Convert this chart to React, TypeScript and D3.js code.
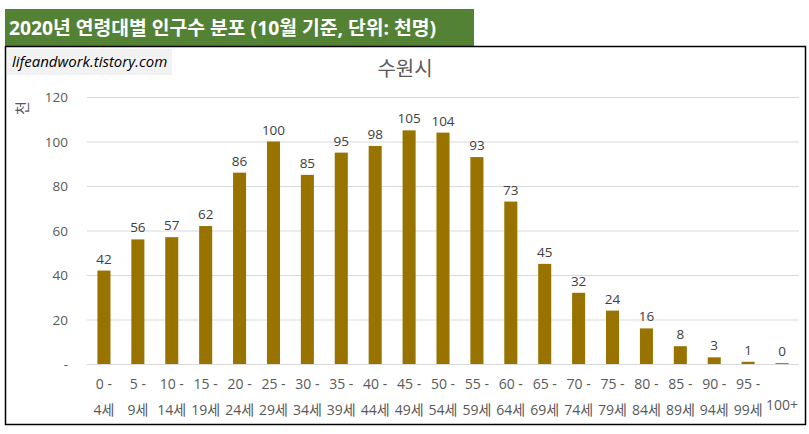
import { useEffect, useRef } from 'react';
import * as d3 from 'd3';

const AGE_LINE1 = ['0 -', '5 -', '10 -', '15 -', '20 -', '25 -', '30 -', '35 -', '40 -', '45 -', '50 -', '55 -', '60 -', '65 -', '70 -', '75 -', '80 -', '85 -', '90 -', '95 -', ''];
const AGE_LINE2 = ['4세', '9세', '14세', '19세', '24세', '29세', '34세', '39세', '44세', '49세', '54세', '59세', '64세', '69세', '74세', '79세', '84세', '89세', '94세', '99세', '100+'];
const POPULATION = [42, 56, 57, 62, 86, 100, 85, 95, 98, 105, 104, 93, 73, 45, 32, 24, 16, 8, 3, 1, 0.4];
const Y_TICKS = [0, 20, 40, 60, 80, 100, 120];

const HEADER = '2020년 연령대별 인구수 분포 (10월 기준, 단위: 천명)';
const CITY = '수원시';
const WATERMARK = 'lifeandwork.tistory.com';

const FONT = "'Open Sans', 'Noto Sans CJK KR', sans-serif";
const BAR_COLOR = '#997300';

export default function App() {
  const svgRef = useRef<SVGSVGElement>(null);

  useEffect(() => {
    if (!svgRef.current) return;
    const svg = d3.select(svgRef.current);
    svg.selectAll('*').remove();

    const plot = { left: 87, right: 799, top: 97, bottom: 364 };

    // header band
    svg.append('rect')
      .attr('x', 5).attr('y', 9).attr('width', 469).attr('height', 37)
      .attr('fill', '#548235');
    svg.append('text')
      .attr('x', 9).attr('y', 35)
      .attr('fill', '#fff').attr('font-size', '19px').attr('font-weight', 'bold')
      .attr('font-family', FONT)
      .attr('textLength', 427).attr('lengthAdjust', 'spacingAndGlyphs')
      .text(HEADER);

    // chart frame
    svg.append('rect')
      .attr('x', 5.5).attr('y', 46.5).attr('width', 800).attr('height', 378)
      .attr('fill', '#fff').attr('stroke', '#000').attr('stroke-width', 1.5);

    // watermark
    svg.append('rect')
      .attr('x', 7).attr('y', 49).attr('width', 165).attr('height', 26)
      .attr('fill', '#f2f2f2');
    svg.append('text')
      .attr('x', 12).attr('y', 67)
      .attr('fill', '#000').attr('font-size', '15px').attr('font-style', 'italic')
      .attr('font-family', FONT)
      .text(WATERMARK);

    // title
    svg.append('text')
      .attr('x', 405).attr('y', 76).attr('text-anchor', 'middle')
      .attr('fill', '#595959').attr('font-size', '20px')
      .attr('font-family', FONT)
      .text(CITY);

    // y axis title
    svg.append('text')
      .attr('transform', 'translate(28,108) rotate(-90)')
      .attr('text-anchor', 'middle')
      .attr('fill', '#595959').attr('font-size', '15px')
      .attr('font-family', FONT)
      .text('천');

    const x = d3.scaleBand<number>()
      .domain(d3.range(POPULATION.length))
      .range([plot.left, plot.right])
      .padding(0);
    const y = d3.scaleLinear().domain([0, 120]).range([plot.bottom, plot.top]);

    // grid
    svg.append('g')
      .selectAll('line')
      .data(Y_TICKS)
      .join('line')
      .attr('x1', plot.left).attr('x2', plot.right)
      .attr('y1', (d) => y(d) + 0.5).attr('y2', (d) => y(d) + 0.5)
      .attr('stroke', '#d9d9d9').attr('stroke-width', 1);

    // y tick labels
    svg.append('g')
      .selectAll('text')
      .data(Y_TICKS)
      .join('text')
      .attr('x', 68).attr('y', (d) => y(d) + 5)
      .attr('text-anchor', 'end')
      .attr('fill', '#595959').attr('font-size', '13.5px')
      .attr('font-family', FONT)
      .text((d) => (d === 0 ? '-' : String(d)));

    // bars
    const barW = x.bandwidth() * 0.385;
    svg.append('g')
      .selectAll('rect')
      .data(POPULATION)
      .join('rect')
      .attr('x', (_d, i) => x(i)! + (x.bandwidth() - barW) / 2)
      .attr('y', (d) => y(d))
      .attr('width', barW)
      .attr('height', (d) => y(0) - y(d))
      .attr('fill', BAR_COLOR);

    // value labels
    svg.append('g')
      .selectAll('text')
      .data(POPULATION)
      .join('text')
      .attr('x', (_d, i) => x(i)! + x.bandwidth() / 2)
      .attr('y', (d) => y(d) - 7)
      .attr('text-anchor', 'middle')
      .attr('fill', '#404040').attr('font-size', '13.5px')
      .attr('font-family', FONT)
      .text((d) => d3.format('.0f')(d));

    // category labels
    const cat = svg.append('g')
      .attr('fill', '#595959').attr('font-size', '14px')
      .attr('font-family', FONT)
      .attr('text-anchor', 'middle');
    AGE_LINE1.forEach((line1, i) => {
      const cx = x(i)! + x.bandwidth() / 2;
      if (line1) {
        cat.append('text').attr('x', cx).attr('y', 389).text(line1);
        cat.append('text').attr('x', cx).attr('y', 415).text(AGE_LINE2[i]);
      } else {
        cat.append('text').attr('x', cx).attr('y', 410).text(AGE_LINE2[i]);
      }
    });
  }, []);

  return (
    <div style={{ position: 'absolute', left: 0, top: 0 }}>
      <svg ref={svgRef} width={809} height={434} style={{ display: 'block', background: '#fff' }} />
    </div>
  );
}
